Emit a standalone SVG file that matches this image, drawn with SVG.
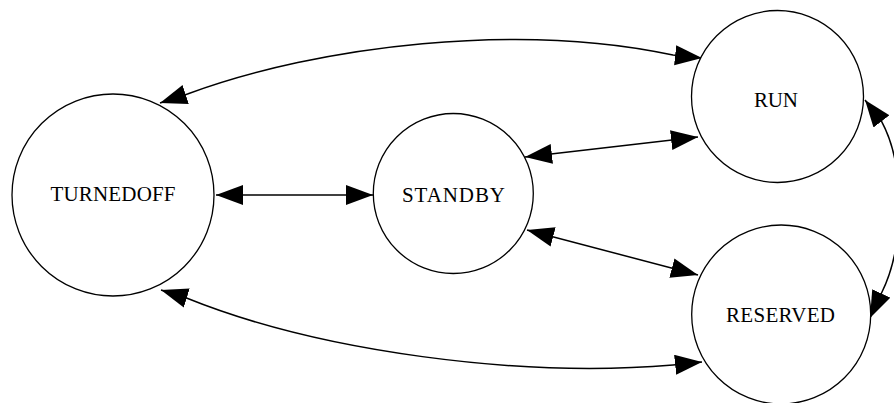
<svg xmlns="http://www.w3.org/2000/svg" width="894" height="403" viewBox="0 0 894 403">
<style>
.node circle{fill:#fff;stroke:#000;stroke-width:1.3}
.node text{font-family:"Liberation Serif","Times New Roman",serif;font-size:21px;fill:#000;text-anchor:middle}
.edge{fill:none;stroke:#000;stroke-width:1.5;marker-start:url(#ah);marker-end:url(#ah)}
</style>
<defs>
<marker id="ah" markerUnits="userSpaceOnUse" markerWidth="30" markerHeight="22" refX="27" refY="10" orient="auto-start-reverse">
<path d="M0,0 L27,10 L0,20 z" fill="#000"/>
</marker>
</defs>
<rect width="894" height="403" fill="#fff"/>
<g id="edges">
<path class="edge" d="M160,103 L187.5,94 C320,45 520,22 673,55 L702,58"/>
<path class="edge" d="M161,290 L186.5,298 C320,352 520,378 673,365 L702,362"/>
<path class="edge" d="M216,195 L373,195"/>
<path class="edge" d="M525,157 L698,137"/>
<path class="edge" d="M527,230 L698,275"/>
<path class="edge" d="M865,100 L881.7,121.7 C905,165 905,245 882,292 L870,318"/>
</g>
<g id="TURNEDOFF" class="node">
<circle cx="113" cy="195" r="101"/>
<text x="113" y="201" textLength="125" lengthAdjust="spacing">TURNEDOFF</text>
</g>
<g id="STANDBY" class="node">
<circle cx="453.3" cy="193.5" r="80"/>
<text x="453.5" y="201.5" textLength="103" lengthAdjust="spacing">STANDBY</text>
</g>
<g id="RUN" class="node">
<circle cx="777.5" cy="96.5" r="86"/>
<text x="776" y="106.5" textLength="44" lengthAdjust="spacing">RUN</text>
</g>
<g id="RESERVED" class="node">
<circle cx="781.2" cy="314.5" r="89.5"/>
<text x="780.5" y="322" textLength="109" lengthAdjust="spacing">RESERVED</text>
</g>
</svg>
